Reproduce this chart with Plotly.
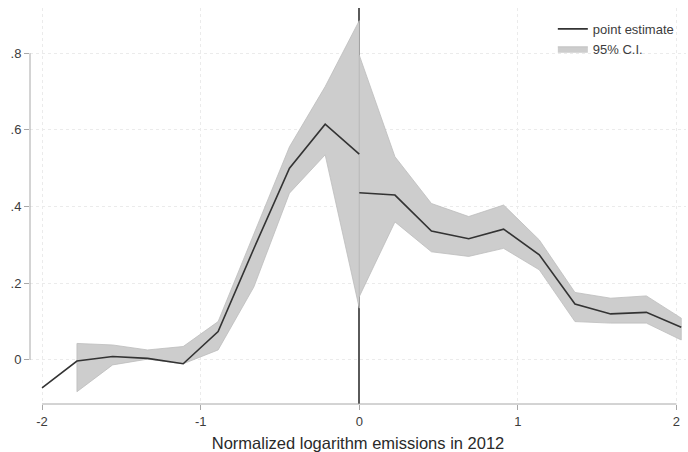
import plotly.graph_objects as go

# Left segment (below threshold)
x_left = [-2.0, -1.78, -1.555, -1.335, -1.11, -0.89, -0.665, -0.44, -0.215, 0.0]
pe_left = [-0.073, -0.003, 0.009, 0.004, -0.010, 0.074, 0.29, 0.50, 0.615, 0.537]
ci_x_left = [-1.78, -1.555, -1.335, -1.11, -0.89, -0.665, -0.44, -0.215, 0.0]
ci_lo_left = [-0.083, -0.013, 0.002, -0.010, 0.026, 0.19, 0.435, 0.535, 0.135]
ci_hi_left = [0.043, 0.039, 0.026, 0.035, 0.100, 0.33, 0.556, 0.713, 0.885]

# Right segment (above threshold)
x_right = [0.0, 0.225, 0.455, 0.69, 0.91, 1.135, 1.36, 1.585, 1.81, 2.03]
pe_right = [0.436, 0.430, 0.336, 0.316, 0.341, 0.274, 0.146, 0.120, 0.124, 0.085]
ci_lo_right = [0.165, 0.360, 0.282, 0.270, 0.291, 0.235, 0.100, 0.096, 0.096, 0.052]
ci_hi_right = [0.795, 0.530, 0.408, 0.374, 0.404, 0.313, 0.176, 0.161, 0.167, 0.109]

y_ticks = [0, 0.2, 0.4, 0.6, 0.8]
y_labels = ["0", ".2", ".4", ".6", ".8"]
x_ticks = [-2, -1, 0, 1, 2]
x_labels = ["-2", "-1", "0", "1", "2"]

band_fill = "#cdcdcd"
band_edge = "#bcbcbc"
line_col = "#333333"
axis_col = "#a8a8a8"
text_col = "#3c3c3c"

fig = go.Figure()

def band(xs, lo, hi, show):
    px = list(xs) + list(xs)[::-1] + [xs[0]]
    py = list(hi) + list(lo)[::-1] + [hi[0]]
    fig.add_trace(go.Scatter(
        x=px, y=py, mode="lines", fill="toself", fillcolor=band_fill,
        line=dict(color=band_edge, width=0.8),
        name="95% C.I.", legendgroup="ci", showlegend=show, legendrank=2,
        hoverinfo="skip"))

band(ci_x_left, ci_lo_left, ci_hi_left, True)
band(x_right, ci_lo_right, ci_hi_right, False)

fig.add_trace(go.Scatter(x=x_left, y=pe_left, mode="lines",
                         line=dict(color=line_col, width=1.6),
                         name="point estimate", legendgroup="pe",
                         showlegend=True, legendrank=1))
fig.add_trace(go.Scatter(x=x_right, y=pe_right, mode="lines",
                         line=dict(color=line_col, width=1.6),
                         name="point estimate", legendgroup="pe",
                         showlegend=False, legendrank=1))

shapes = [
    # y axis line spanning tick range
    dict(type="line", xref="paper", yref="y", x0=0, x1=0, y0=0, y1=0.8,
         line=dict(color=axis_col, width=1)),
    # x axis line spanning tick range
    dict(type="line", xref="x", yref="paper", x0=-2, x1=2, y0=0, y1=0,
         line=dict(color=axis_col, width=1)),
]

fig.update_layout(
    width=688, height=452,
    margin=dict(l=30, r=2, t=8, b=48),
    paper_bgcolor="white", plot_bgcolor="white",
    font=dict(family="Liberation Sans, Arial, sans-serif", color=text_col, size=13),
    shapes=shapes,
    showlegend=True,
    legend=dict(x=0.797, y=0.985, xanchor="left", yanchor="top",
                bgcolor="rgba(0,0,0,0)", font=dict(size=13, color=text_col),
                itemwidth=30, tracegroupgap=0, traceorder="normal"),
    xaxis=dict(range=[-2.076, 2.06], tickvals=x_ticks, ticktext=x_labels,
               showline=False, showgrid=True,
               zeroline=True, zerolinecolor="#5a5a5a", zerolinewidth=1.5,
               gridcolor="#ebebeb", griddash="dot", gridwidth=1,
               ticks="outside", ticklen=5, tickcolor=axis_col,
               title=dict(text="Normalized logarithm emissions in 2012",
                          font=dict(size=16.5, color="#2a2a2a"), standoff=9),
               tickfont=dict(size=13), fixedrange=True),
    yaxis=dict(range=[-0.115, 0.918], tickvals=y_ticks, ticktext=y_labels,
               showline=False, zeroline=False, showgrid=True,
               gridcolor="#ebebeb", griddash="dot", gridwidth=1,
               ticks="outside", ticklen=5, tickcolor=axis_col,
               tickfont=dict(size=13), fixedrange=True),
)

fig.write_html("out.html")
